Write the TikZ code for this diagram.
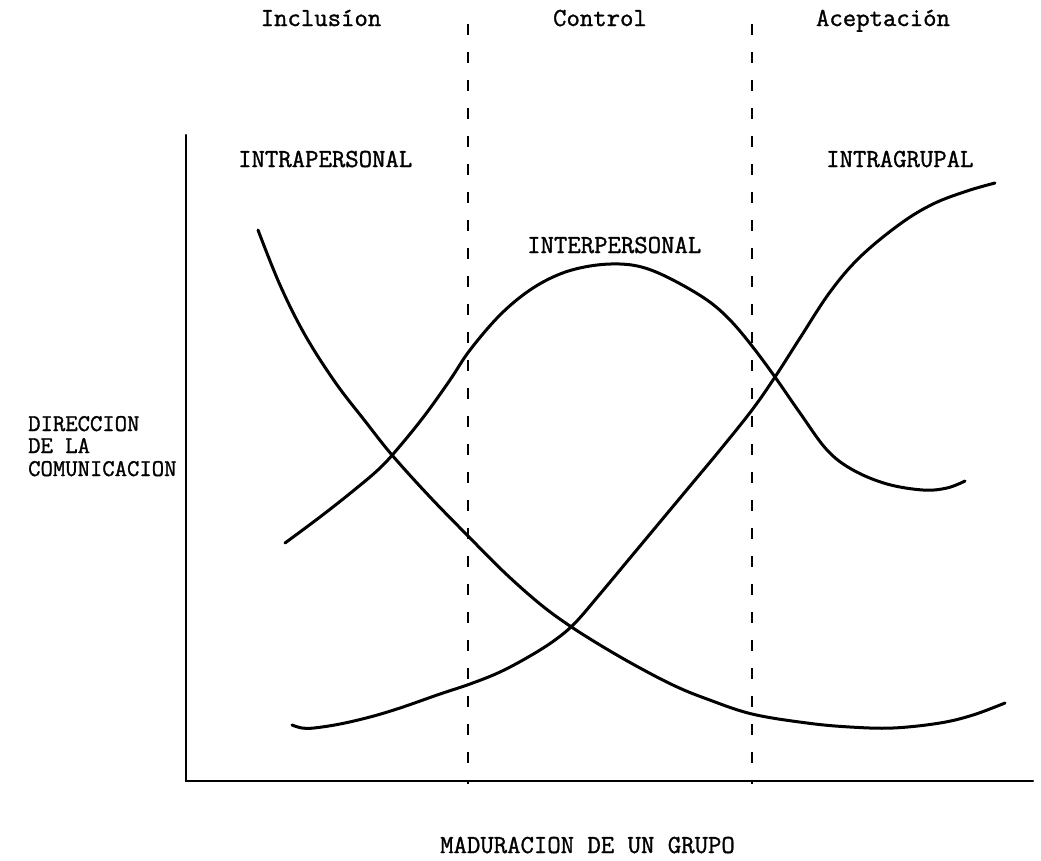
\documentclass[tikz,border=0pt]{standalone}
\usepackage{fontspec}
\newfontfamily\typewriter{Latin Modern Mono}[BoldFont={Latin Modern Mono}, BoldFeatures={FakeBold=1.2}]
\begin{document}
\begin{tikzpicture}[x=1pt,y=-1pt,
  lbl/.style={font=\typewriter\bfseries\fontsize{26}{26}\selectfont, inner sep=0pt, anchor=base},
  sidelbl/.style={lbl, font=\typewriter\bfseries\fontsize{24}{24}\selectfont, anchor=base west},
  axisline/.style={line width=2.2pt, line cap=round},
  divider/.style={line width=2pt, dash pattern=on 11pt off 17pt},
  curve/.style={line width=3pt, line cap=round, line join=round}]
\useasboundingbox (0,0) rectangle (1041,860);

% axes
\coordinate (origin) at (186,781);
\coordinate (ytop) at (186,135);
\coordinate (xend) at (1033,781);
\draw[axisline] (ytop) -- (origin) -- (xend);

% stage dividers
\coordinate (d1top) at (468,24);
\coordinate (d1bot) at (468,784);
\coordinate (d2top) at (752,24);
\coordinate (d2bot) at (752,784);
\draw[divider] (d1top) -- (d1bot);
\draw[divider] (d2top) -- (d2bot);

% stage headings
\node[lbl] (inclusion) at (321,26) {Inclusíon};
\node[lbl] (control) at (600,26) {Control};
\node[lbl] (aceptacion) at (883,26) {Aceptación};

% curve labels
\node[lbl, anchor=base west] (intrap) at (238,167) {INTRAPERSONAL};
\node[lbl, anchor=base west] (interp) at (527,253) {INTERPERSONAL};
\node[lbl, anchor=base west] (intrag) at (826,167) {INTRAGRUPAL};

% axis titles
\node[sidelbl] (dir1) at (28,431) {DIRECCION};
\node[sidelbl] (dir2) at (28,453) {DE LA};
\node[sidelbl] (dir3) at (28,476) {COMUNICACION};
\node[lbl, anchor=base west] (mad) at (440,853) {MADURACION DE UN GRUPO};

% intrapersonal communication: falling
\draw[curve] plot[smooth, tension=0.6] coordinates {
  (258,230) (280,285) (305,335) (335,382) (365,421) (392,455)
  (430,497) (470,538) (505,573) (540,604) (570,626) (605,648)
  (640,668) (675,686) (707,699) (752,714) (807,723) (850,727)
  (893,728) (940,723) (973,715) (1005,703)};

% interpersonal communication: rising then falling
\draw[curve] plot[smooth, tension=0.6] coordinates {
  (285,543) (320,517) (353,491) (380,468) (400,446) (425,415)
  (450,380) (470,350) (500,315) (530,290) (560,274) (590,266)
  (620,264) (645,268) (673,280) (707,300) (730,320) (752,346)
  (775,377) (800,413) (827,450) (853,470) (887,484) (923,490)
  (947,488) (965,481)};

% intragroup communication: rising
\draw[curve] plot[smooth, tension=0.6] coordinates {
  (292,725) (302,728) (314,728) (340,724) (370,717) (400,708)
  (440,694) (470,684) (500,672) (530,656) (555,640) (575,623)
  (600,594) (630,558) (660,522) (690,486) (720,450) (752,410)
  (775,377) (800,338) (830,292) (860,257) (900,224) (933,204)
  (967,191) (995,183)};
\end{tikzpicture}
\end{document}
